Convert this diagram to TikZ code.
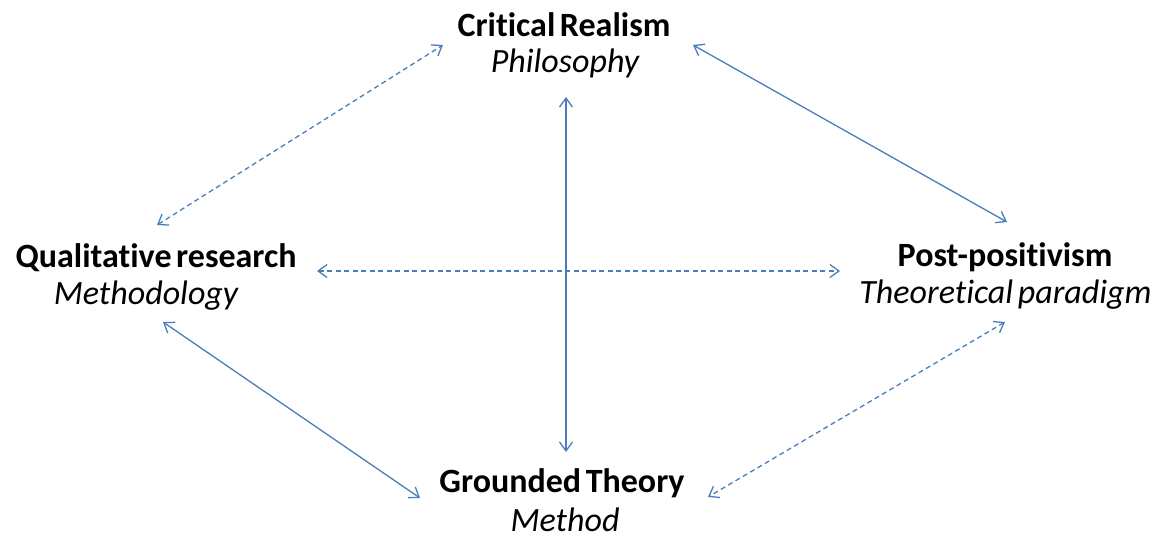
\documentclass[tikz,border=0pt]{standalone}
\usepackage{fontspec}
\setmainfont{Carlito}[Ligatures=NoCommon, WordSpace=0.6]
\usetikzlibrary{arrows.meta}
\definecolor{linkblue}{HTML}{4A7EBB}
\tikzset{
  title/.style={font=\fontsize{34}{38}\selectfont\bfseries, inner sep=0pt, anchor=base},
  role/.style={font=\fontsize{34}{38}\selectfont\itshape, inner sep=0pt, anchor=base},
  link/.style={draw=linkblue, line width=1.3pt, {Straight Barb[length=9pt,width=13pt,line width=1.3pt]}-{Straight Barb[length=9pt,width=13pt,line width=1.3pt]}},
  weak/.style={link, dash pattern=on 5pt off 3.5pt},
}
\begin{document}
\begin{tikzpicture}[x=1pt,y=-1pt]
\useasboundingbox (0,0) rectangle (1162,536);
% concept labels (positioned by baseline)
\node[title] (cr) at (564,36) {Critical Realism};
\node[role] (crr) at (565,72.5) {Philosophy};
\node[title] (qr) at (156,267) {Qualitative research};
\node[role] (qrr) at (146,304) {Methodology};
\node[title] (pp) at (1005,266) {Post-positivism};
\node[role] (ppr) at (1005.5,303) {Theoretical paradigm};
\node[title] (gt) at (562,492) {Grounded Theory};
\node[role] (gtr) at (565,531) {Method};
% connector end points
\coordinate (a1) at (157,225); \coordinate (a2) at (443,45);
\coordinate (b1) at (693,45); \coordinate (b2) at (1007,222);
\coordinate (c1) at (566,97); \coordinate (c2) at (566,452);
\coordinate (d1) at (317,271); \coordinate (d2) at (840,271);
\coordinate (e1) at (163,322); \coordinate (e2) at (420,498);
\coordinate (f1) at (1005,322); \coordinate (f2) at (708,497);
% relations
\draw[weak] (a1) -- (a2);
\draw[link] (b1) -- (b2);
\draw[link] (c1) -- (c2);
\draw[weak] (d1) -- (d2);
\draw[link] (e1) -- (e2);
\draw[weak] (f1) -- (f2);
\end{tikzpicture}
\end{document}
